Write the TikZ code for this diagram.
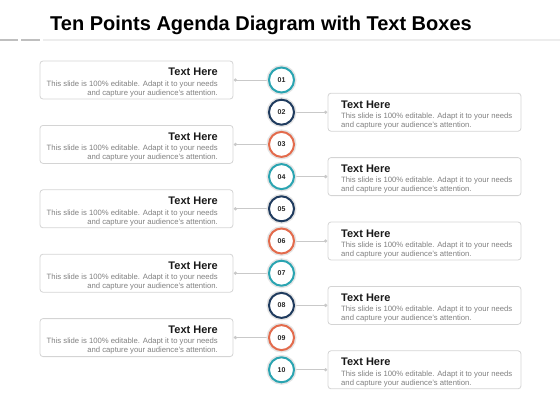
\documentclass[tikz,border=0pt]{standalone}
\usepackage{fontspec}
\setmainfont{Liberation Sans}
\usetikzlibrary{positioning}
\definecolor{agteal}{HTML}{2AA4B1}
\definecolor{agnavy}{HTML}{1F3B5E}
\definecolor{agorange}{HTML}{E36B4C}
\definecolor{agline}{HTML}{C9C9C9}
\definecolor{agbody}{HTML}{808080}
\tikzset{numdot/.style = {circle, draw=#1, line width=2, fill=white, minimum size=25,
    inner sep=0, text=black!85, font=\bfseries\fontsize{7}{8}\selectfont,
    preaction={draw=black!10, line width=5}}}
\tikzset{textbox/.style = {draw=black!17, rounded corners=3, line width=0.8,
    minimum width=193, minimum height=38, inner sep=0}}
\tikzset{boxhead/.style = {inner sep=0, text=black!90, font=\bfseries\fontsize{11}{13}\selectfont}}
\tikzset{boxbody/.style = {inner sep=0, text=agbody, font=\fontsize{7.7}{9}\selectfont}}
\tikzset{link/.style = {draw=agline, line width=0.8}}

\begin{document}
\begin{tikzpicture}[x=1pt, y=-1pt]
  \useasboundingbox (0,0) rectangle (560,420);
  % title and rule
  \node [anchor=base, inner sep=0, font=\bfseries\fontsize{20}{24}\selectfont] (title) at (261,31)
    {Ten Points Agenda Diagram with Text Boxes};
  \fill [black!25] (0,39) rectangle (18,41);
  \fill [black!25] (21,39) rectangle (40,41);
  \fill [black!7] (43,39.4) rectangle (560,40.6);

  \foreach \i/\col in {1/agteal, 2/agnavy, 3/agorange, 4/agteal, 5/agnavy,
                       6/agorange, 7/agteal, 8/agnavy, 9/agorange, 10/agteal} {
    \pgfmathsetmacro\y{80+(\i-1)*32.2}
    \ifodd\i\relax
      \node [textbox] (b\i) at (136.5,\y) {};
      \coordinate (d\i) at ([xshift=2]b\i.east);
      \draw [link] (d\i) -- (268,\y);
      \node [boxhead, anchor=base east] (h\i) at (218,\y-4) {Text Here};
      \node [boxbody, anchor=north east, align=right] (t\i) at (218,\y+0.5)
        {This slide is 100\% editable. Adapt it to your needs\\and capture your audience's attention.};
    \else
      \node [textbox] (b\i) at (424.5,\y) {};
      \coordinate (d\i) at ([xshift=-2]b\i.west);
      \draw [link] (295,\y) -- (d\i);
      \node [boxhead, anchor=base west] (h\i) at (341,\y-4) {Text Here};
      \node [boxbody, anchor=north west, align=left] (t\i) at (341,\y+0.5)
        {This slide is 100\% editable. Adapt it to your needs\\and capture your audience's attention.};
    \fi
    \fill [agline] (d\i) circle (1.8);
    \node [numdot=\col] (n\i) at (281.5,\y) {\ifnum\i<10 0\fi\i};
  }
\end{tikzpicture}
\end{document}
